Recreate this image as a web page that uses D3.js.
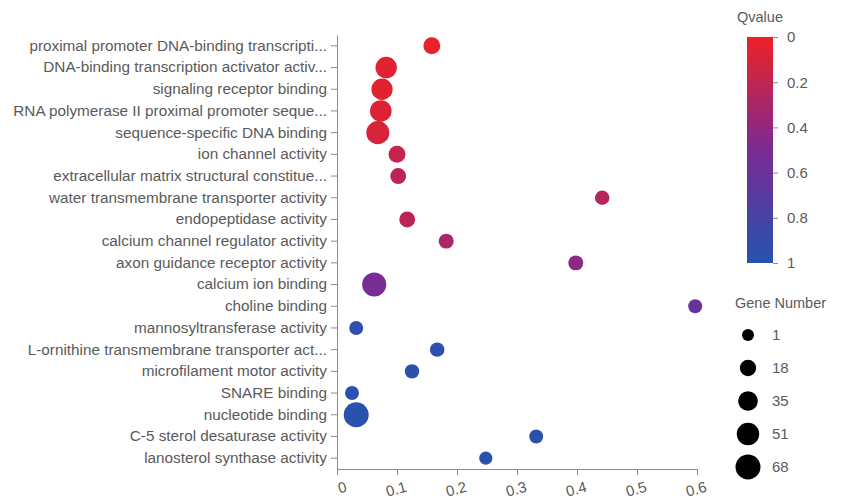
<!DOCTYPE html>
<head>
    <meta charset="utf-8">
    <script src="https://d3js.org/d3.v7.min.js"></script>
    <style>
        body {
            margin: 0;
            font-family: "Liberation Sans", Arial, sans-serif;
            background: white;
        }
        text {
            fill: #5a5a5a;
        }
        .axis path, .axis line {
            stroke: #8a8a8a;
        }
        .axis text {
            font-size: 14px;
            fill: #5a5a5a;
        }
        .y-axis text {
            font-size: 15.3px;
        }
        .x-axis text {
            font-size: 15px;
        }
        .legend-title {
            font-size: 14.5px;
        }
    </style>
</head>
<body>
<script>
    // categories, top to bottom
    var terms = [
        "proximal promoter DNA-binding transcripti...",
        "DNA-binding transcription activator activ...",
        "signaling receptor binding",
        "RNA polymerase II proximal promoter seque...",
        "sequence-specific DNA binding",
        "ion channel activity",
        "extracellular matrix structural constitue...",
        "water transmembrane transporter activity",
        "endopeptidase activity",
        "calcium channel regulator activity",
        "axon guidance receptor activity",
        "calcium ion binding",
        "choline binding",
        "mannosyltransferase activity",
        "L-ornithine transmembrane transporter act...",
        "microfilament motor activity",
        "SNARE binding",
        "nucleotide binding",
        "C-5 sterol desaturase activity",
        "lanosterol synthase activity"
    ];
    var richFactor = [0.158, 0.082, 0.075, 0.073, 0.068, 0.100, 0.102, 0.442, 0.117, 0.182,
                      0.398, 0.062, 0.597, 0.032, 0.167, 0.125, 0.025, 0.032, 0.332, 0.248];
    var qvalue = [0.02, 0.06, 0.05, 0.07, 0.10, 0.17, 0.22, 0.25, 0.22, 0.30,
                  0.42, 0.52, 0.62, 0.95, 0.95, 0.96, 0.97, 0.97, 0.96, 0.97];
    var geneNumber = [21, 45, 44, 46, 55, 21, 16, 10, 16, 12,
                      12, 62, 8, 8, 10, 10, 8, 68, 8, 5];

    var xTicks = [0, 0.1, 0.2, 0.3, 0.4, 0.5, 0.6];
    var qTicks = [0, 0.2, 0.4, 0.6, 0.8, 1];
    var sizeTicks = [1, 18, 35, 51, 68];

    var margin = {top: 35, right: 151, bottom: 31, left: 337};
    var width = 848 - margin.left - margin.right,
        height = 500 - margin.top - margin.bottom;

    var svg = d3.select("body").append("svg")
        .attr("width", 848)
        .attr("height", 500);

    var g = svg.append("g")
        .attr("transform", "translate(" + margin.left + "," + margin.top + ")");

    var data = terms.map(function(t, i) {
        return {term: t, rf: richFactor[i], q: qvalue[i], n: geneNumber[i]};
    });

    var y = d3.scaleBand()
        .domain(terms)
        .range([0, height]);

    var x = d3.scaleLinear()
        .domain([0, 0.6])
        .range([0, width]);

    var colour = d3.scaleLinear()
        .domain([0, 0.5, 1])
        .range(["#ee2125", "#7b2a94", "#2553b0"]);

    var radius = d3.scaleRadial()
        .domain([1, 68])
        .range([6, 12.5]);

    // axes
    var yAxis = d3.axisLeft(y).tickSize(6).tickPadding(4).tickSizeOuter(0);
    g.append("g")
        .attr("class", "axis y-axis")
        .call(yAxis);

    var xAxis = d3.axisBottom(x)
        .tickValues(xTicks)
        .tickSize(6)
        .tickSizeOuter(0)
        .tickFormat(function(d) { return d === 0 ? "0" : d3.format(".1f")(d); });
    var xg = g.append("g")
        .attr("class", "axis x-axis")
        .attr("transform", "translate(0," + height + ")")
        .call(xAxis);
    xg.selectAll("text")
        .style("text-anchor", "end")
        .attr("y", 10)
        .attr("dx", "4px")
        .attr("dy", "0.95em")
        .attr("transform", "rotate(-15)");

    // dots
    g.append("g").selectAll("circle")
        .data(data)
        .enter().append("circle")
        .attr("cx", function(d) { return x(d.rf); })
        .attr("cy", function(d) { return y(d.term) + y.bandwidth() / 2; })
        .attr("r", function(d) { return radius(d.n); })
        .attr("fill", function(d) { return colour(d.q); });

    // Qvalue colour legend
    var barX = 747, barY = 37, barW = 26, barH = 226;
    var defs = svg.append("defs");
    var grad = defs.append("linearGradient")
        .attr("id", "qgrad")
        .attr("x1", 0).attr("y1", 0).attr("x2", 0).attr("y2", 1);
    grad.selectAll("stop")
        .data(d3.range(0, 1.01, 0.1))
        .enter().append("stop")
        .attr("offset", function(d) { return d; })
        .attr("stop-color", function(d) { return colour(d); });

    svg.append("text")
        .attr("class", "legend-title")
        .attr("x", barX + barW / 2)
        .attr("y", 22)
        .attr("text-anchor", "middle")
        .text("Qvalue");

    svg.append("rect")
        .attr("x", barX)
        .attr("y", barY)
        .attr("width", barW)
        .attr("height", barH)
        .attr("fill", "url(#qgrad)");

    var qScale = d3.scaleLinear().domain([0, 1]).range([0, barH]);
    var qAxis = d3.axisRight(qScale)
        .tickValues(qTicks)
        .tickSize(5)
        .tickPadding(9)
        .tickFormat(function(d) { return d === 0 || d === 1 ? d : d3.format(".1f")(d); });
    var qg = svg.append("g")
        .attr("class", "axis")
        .attr("transform", "translate(" + (barX + barW) + "," + barY + ")")
        .call(qAxis);
    qg.select(".domain").remove();
    qg.selectAll("line").attr("stroke", "#444");
    qg.selectAll("text").style("font-size", "15px");

    // Gene Number legend
    svg.append("text")
        .attr("class", "legend-title")
        .attr("x", 735)
        .attr("y", 308)
        .text("Gene Number");

    var sizeY = d3.scalePoint()
        .domain(sizeTicks)
        .range([335, 467]);

    var sizeItems = svg.append("g").selectAll("g")
        .data(sizeTicks)
        .enter().append("g")
        .attr("transform", function(d) { return "translate(748," + sizeY(d) + ")"; });

    sizeItems.append("circle")
        .attr("r", function(d) { return radius(d); })
        .attr("fill", "black");

    sizeItems.append("text")
        .attr("x", 24)
        .attr("dy", "0.35em")
        .style("font-size", "15px")
        .text(function(d) { return d; });
</script>
</body>
</html>
